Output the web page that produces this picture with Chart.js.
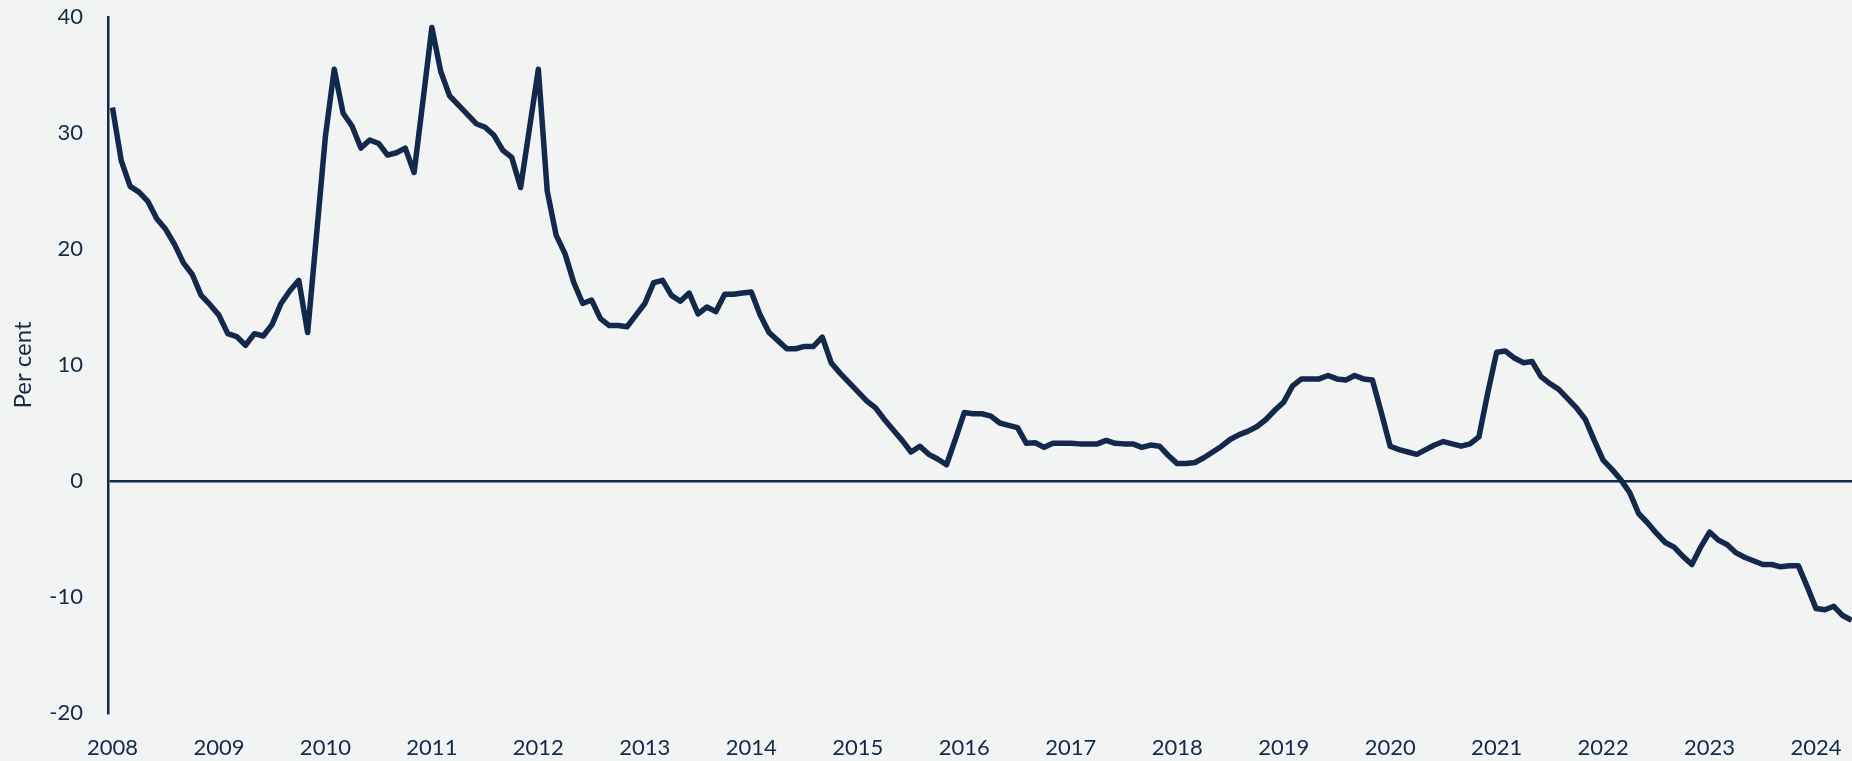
<!DOCTYPE html>
<html>
<head>
<meta charset="utf-8">
<script src="https://cdn.jsdelivr.net/npm/chart.js@4"></script>
<style>
  html, body { margin: 0; padding: 0; background: #f2f3f3; overflow: hidden; }
  #wrap { width: 1856px; height: 761px; }
</style>
</head>
<body>
<div id="wrap"><canvas id="chart" width="1856" height="761"></canvas></div>
<script>
// year tick labels
var years = ['2008', '2009', '2010', '2011', '2012', '2013', '2014', '2015', '2016',
             '2017', '2018', '2019', '2020', '2021', '2022', '2023', '2024'];

// monthly values, per cent, one array per year
var y2008 = [32.2, 27.6, 25.4, 24.9, 24.1, 22.6, 21.7, 20.4, 18.8, 17.8, 16.0, 15.2];
var y2009 = [14.3, 12.7, 12.45, 11.7, 12.7, 12.5, 13.5, 15.3, 16.4, 17.3, 12.8, 21.2];
var y2010 = [29.7, 35.5, 31.7, 30.6, 28.7, 29.4, 29.1, 28.1, 28.3, 28.7, 26.6, 32.8];
var y2011 = [39.1, 35.3, 33.2, 32.4, 31.6, 30.8, 30.5, 29.8, 28.5, 27.9, 25.3, 30.4];
var y2012 = [35.5, 25.0, 21.2, 19.6, 17.1, 15.3, 15.6, 14.0, 13.4, 13.4, 13.3, 14.3];
var y2013 = [15.3, 17.1, 17.3, 16.0, 15.5, 16.2, 14.4, 15.0, 14.6, 16.1, 16.1, 16.2];
var y2014 = [16.3, 14.3, 12.8, 12.1, 11.4, 11.4, 11.6, 11.6, 12.4, 10.2, 9.3, 8.5];
var y2015 = [7.7, 6.9, 6.3, 5.3, 4.4, 3.5, 2.5, 3.0, 2.3, 1.9, 1.4, 3.6];
var y2016 = [5.9, 5.8, 5.8, 5.6, 5.0, 4.8, 4.6, 3.25, 3.3, 2.9, 3.25, 3.25];
var y2017 = [3.25, 3.2, 3.2, 3.2, 3.5, 3.25, 3.2, 3.2, 2.9, 3.1, 3.0, 2.2];
var y2018 = [1.5, 1.5, 1.6, 2.0, 2.5, 3.0, 3.6, 4.0, 4.3, 4.7, 5.3, 6.1];
var y2019 = [6.8, 8.2, 8.8, 8.8, 8.8, 9.1, 8.8, 8.7, 9.1, 8.8, 8.7, 5.9];
var y2020 = [3.0, 2.7, 2.5, 2.3, 2.7, 3.1, 3.4, 3.2, 3.0, 3.2, 3.8, 7.6];
var y2021 = [11.1, 11.2, 10.6, 10.2, 10.3, 9.0, 8.4, 7.9, 7.1, 6.3, 5.3, 3.5];
var y2022 = [1.8, 1.0, 0.1, -1.0, -2.8, -3.6, -4.5, -5.3, -5.7, -6.5, -7.2, -5.7];
var y2023 = [-4.4, -5.1, -5.5, -6.2, -6.6, -6.9, -7.2, -7.2, -7.4, -7.3, -7.3, -9.1];
var y2024 = [-11.0, -11.1, -10.8, -11.6, -12.0];

var byYear = [y2008, y2009, y2010, y2011, y2012, y2013, y2014, y2015, y2016,
              y2017, y2018, y2019, y2020, y2021, y2022, y2023, y2024];

var navy = '#13294b';

// monthly categories like "2008-01"
var labels = [];
var values = [];
byYear.forEach(function (arr, k) {
    arr.forEach(function (v, m) {
        labels.push(years[k] + '-' + (m < 9 ? '0' : '') + (m + 1));
        values.push(v);
    });
});

var ctx = document.getElementById('chart').getContext('2d');
var chart = new Chart(ctx, {
    type: 'line',
    data: {
        labels: labels,
        datasets: [{
            data: values,
            borderColor: navy,
            borderWidth: 5.5,
            pointRadius: 0,
            tension: 0,
            borderJoinStyle: 'round',
            fill: false
        }]
    },
    options: {
        responsive: false,
        animation: false,
        layout: { padding: { top: 17, left: 0, right: 0, bottom: 0 } },
        plugins: {
            legend: { display: false },
            tooltip: { enabled: false }
        },
        scales: {
            x: {
                offset: true,
                grid: { display: false, drawTicks: false },
                border: { display: false },
                ticks: {
                    autoSkip: false,
                    maxRotation: 0,
                    padding: 22,
                    color: navy,
                    font: { family: 'Lato', size: 22 },
                    callback: function (v) {
                        var l = this.getLabelForValue(v);
                        return l.slice(5) === '01' ? l.slice(0, 4) : '';
                    }
                },
                afterFit: function (a) {
                    a.height = 48;
                    a.paddingLeft = 0;
                    a.paddingRight = 0;
                }
            },
            y: {
                min: -20,
                max: 40,
                ticks: {
                    stepSize: 10,
                    padding: 25,
                    color: navy,
                    font: { family: 'Lato', size: 22 }
                },
                grid: {
                    drawTicks: false,
                    lineWidth: 2.5,
                    color: function (c) { return c.tick && c.tick.value === 0 ? navy : 'rgba(0,0,0,0)'; }
                },
                border: { display: true, color: navy, width: 2.5 },
                title: {
                    display: true,
                    text: 'Per cent',
                    color: navy,
                    font: { family: 'Lato', size: 24 },
                    padding: { top: 9, bottom: 0 }
                },
                afterFit: function (a) {
                    a.width = 108;
                    a.paddingTop = 0;
                    a.paddingBottom = 0;
                }
            }
        }
    }
});
</script>
</body>
</html>
